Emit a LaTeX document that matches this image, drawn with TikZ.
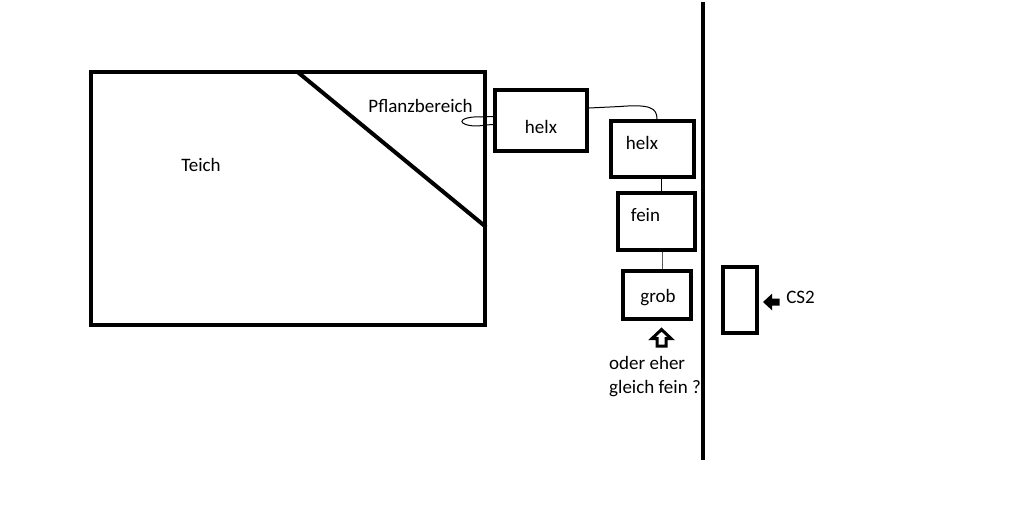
\documentclass[tikz,border=0pt]{standalone}
\usepackage{fontspec}
\setmainfont{Carlito}
\begin{document}
\begin{tikzpicture}[x=1pt,y=-1pt,
		every node/.style={font=\fontsize{19}{24}\selectfont},
		txt/.style={anchor=base,inner sep=0pt},
		filt/.style={draw,line width=4pt,inner sep=0pt},
		wire/.style={line width=1pt}]
			\useasboundingbox (0,0) rectangle (1030,520);
			% Teich mit Pflanzbereich
			\draw[line width=4pt] (90.5,71.5) rectangle (484.5,324.5);
			\draw[line width=4pt] (297,71.5)--(486,227);
			\node[txt] (teich) at (201,171) {Teich};
			\node[txt] (pflanz) at (420.5,112) {Pflanzbereich};
			% Wand
			\draw[line width=4.5pt] (703,2)--(703,460);
			% Filter
			\node[filt,minimum width=92pt,minimum height=61pt] (helx1) at (541,120.5) {};
			\node[filt,minimum width=83pt,minimum height=56pt] (helx2) at (652.5,149) {};
			\node[filt,minimum width=77pt,minimum height=57pt] (fein) at (656.5,221.5) {};
			\node[filt,minimum width=68pt,minimum height=48pt] (grob) at (657,295) {};
			\node[filt,minimum width=34pt,minimum height=66pt] (cs) at (740,300) {};
			\node[txt] (helx1t) at (541,133) {helx};
			\node[txt] (helx2t) at (642,149) {helx};
			\node[txt] (feint) at (645.5,221) {fein};
			\node[txt] (grobt) at (658,302) {grob};
			\node[txt] (cst) at (800.5,303) {CS2};
			\node[txt,anchor=base west,align=left] (note) at (609,393) {oder eher\\gleich fein ?};
			% Schlauch
			\draw[wire] ([yshift=4pt]helx1.west)--(481,117)
			..controls (462,116) and (455,123) ..(470,125.5)
			..controls (478,127) and (486,124.5) ..([yshift=-4pt]helx1.west);
			\draw[wire] ([yshift=12.5pt]helx1.east)--(620,106.5)
			..controls (650,104) and (657,108) ..([xshift=4.5pt]helx2.north);
			\draw[wire] ([xshift=9pt]helx2.south)--([xshift=9pt]helx2.south |- fein.north);
			\draw[wire] ([xshift=5.5pt]fein.south)..controls +(0,-8) and +(0,8) ..([xshift=5pt]grob.north);
			% Pfeile
			\draw[line width=3pt,line join=miter]
			(661.5,329.5)--(671,338.5)--(666,338.5)--(666,346)--(657,346)--(657,338.5)--(652,338.5)--cycle;
			\draw[line width=2pt,fill=black,line join=miter]
			(764.5,302)--(771,296)--(771,299.5)--(778.5,299.5)--(778.5,304.5)--(771,304.5)--(771,308)--cycle;
		\end{tikzpicture}
\end{document}
